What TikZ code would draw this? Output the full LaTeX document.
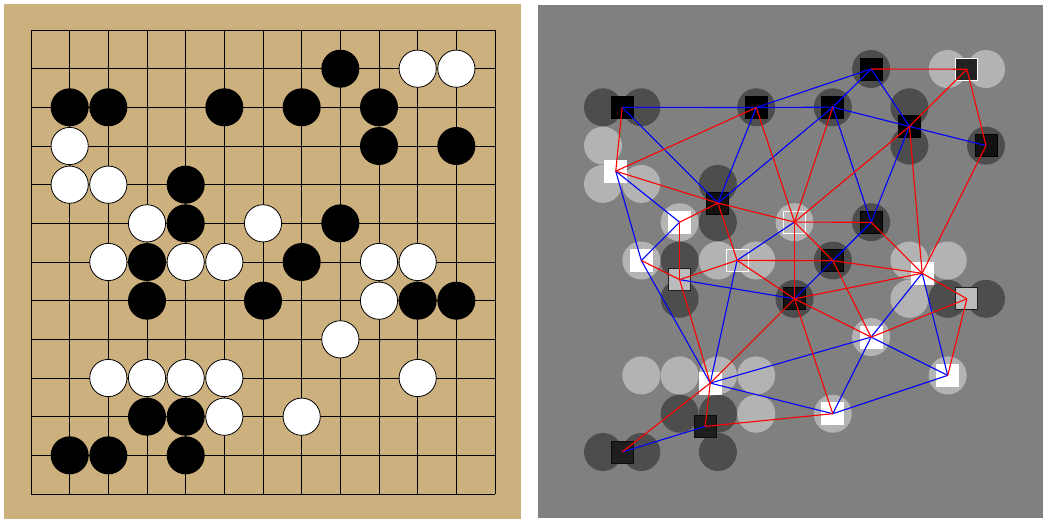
\documentclass[tikz,border=0pt]{standalone}
\definecolor{board}{RGB}{204,176,126}
\definecolor{panel}{RGB}{128,128,128}
\definecolor{dstone}{RGB}{77,77,77}
\definecolor{lstone}{RGB}{179,179,179}
\definecolor{k0}{RGB}{0,0,0}
\definecolor{k1}{RGB}{17,17,17}
\definecolor{k2}{RGB}{30,30,30}
\definecolor{k2b}{RGB}{12,12,12}
\definecolor{kw}{RGB}{34,34,34}
\definecolor{gsq}{RGB}{188,188,188}
\definecolor{gsqw}{RGB}{184,184,184}
\definecolor{edgeblue}{RGB}{0,0,255}
\definecolor{edgered}{RGB}{255,0,0}
\tikzset{
  gridline/.style={black, line width=0.9pt},
  sq/.style={rectangle, minimum size=22pt, inner sep=0pt, line width=1pt},
  sqK/.style={sq, fill=k0, draw=k0},
  sqKa/.style={sq, fill=k1, draw=k0},
  sqKb/.style={sq, fill=k2, draw=k2b},
  sqKg/.style={sq, fill=gsq, draw=k2},
  sqWk/.style={sq, fill=kw, draw=white},
  sqWg/.style={sq, fill=gsqw, draw=white},
  sqW/.style={sq, fill=white, draw=white},
  be/.style={edgeblue, line width=1.1pt},
  re/.style={edgered, line width=1.1pt}
}
\begin{document}
\begin{tikzpicture}[x=1pt,y=-1pt]
\useasboundingbox (0,0) rectangle (1043,520);
\fill[white] (0,0) rectangle (1043,520);
% ---------- left: board ----------
\fill[board] (4,4) rectangle (521,519);
\begin{scope}[shift={(31,30)}, x=38.667pt, y=-38.667pt]
  \foreach \i in {0,...,12} {
    \draw[gridline] (\i,0) -- (\i,12);
    \draw[gridline] (0,\i) -- (12,\i);
  }
  \foreach \c/\r in {8/1, 1/2,2/2,5/2,7/2,9/2, 9/3,11/3, 4/4, 4/5,8/5,
                     3/6,7/6, 3/7,6/7,10/7,11/7, 3/10,4/10, 1/11,2/11,4/11}
    \fill[black] (\c,\r) circle[radius=19pt];
  \foreach \c/\r in {10/1,11/1, 1/3, 1/4,2/4, 3/5,6/5, 2/6,4/6,5/6,9/6,10/6,
                     9/7, 8/8, 2/9,3/9,4/9,5/9,10/9, 5/10,7/10}
    \filldraw[fill=white, draw=black, line width=0.8pt] (\c,\r) circle[radius=18.6pt];
\end{scope}
% ---------- right: graph ----------
\fill[panel] (538,5) rectangle (1043,518);
\begin{scope}[shift={(564.7,30.7)}, x=38.3pt, y=-38.3pt]
  \foreach \c/\r in {8/1, 1/2,2/2,5/2,7/2,9/2, 9/3,11/3, 4/4, 4/5,8/5,
                     3/6,7/6, 3/7,6/7,10/7,11/7, 3/10,4/10, 1/11,2/11,4/11}
    \fill[dstone] (\c,\r) circle[radius=19pt];
  \foreach \c/\r in {10/1,11/1, 1/3, 1/4,2/4, 3/5,6/5, 2/6,4/6,5/6,9/6,10/6,
                     9/7, 8/8, 2/9,3/9,4/9,5/9,10/9, 5/10,7/10}
    \fill[lstone] (\c,\r) circle[radius=19pt];
  % black groups
  \node[sqK]  (B1)  at (8,1) {};
  \node[sqK]  (B2)  at (1.5,2) {};
  \node[sqK]  (B3)  at (5,2.006) {};
  \node[sqK]  (B4)  at (7,1.996) {};
  \node[sqK]  (B5)  at (9,2.5) {};
  \node[sqKa] (B6)  at (11,3) {};
  \node[sqKa] (B7)  at (4,4.5) {};
  \node[sqKa] (B8)  at (8,5.004) {};
  \node[sqKg] (B9)  at (3,6.5) {};
  \node[sqKa] (B10) at (7,6.004) {};
  \node[sqKa] (B11) at (6,7) {};
  \node[sqKg] (B14) at (10.5,7) {};
  \node[sqKb] (B12) at (3.667,10.333) {};
  \node[sqKb] (B13) at (1.5,11) {};
  % white groups
  \node[sqWk] (W1)  at (10.5,1.006) {};
  \node[sqW]  (W2)  at (1.333,3.667) {};
  \node[sqW]  (W3)  at (3,5) {};
  \node[sqWg] (W4)  at (6,4.996) {};
  \node[sqW]  (W5)  at (2,6) {};
  \node[sqWg] (W6)  at (4.5,5.996) {};
  \node[sqW]  (W7)  at (9.333,6.333) {};
  \node[sqW]  (W8)  at (8,8) {};
  \node[sqW]  (W9)  at (3.8,9.2) {};
  \node[sqW]  (W10) at (10,9) {};
  \node[sqW]  (W11) at (7,10) {};
  % same-colour edges
  \foreach \a/\b in {B2/B3, B3/B4, B2/B7, B3/B7, B3/B1, B4/B7, B1/B4, B1/B5,
                     B4/B5, B5/B6, B4/B8, B5/B8, B8/B10, B10/B11, B9/B11, B12/B13,
                     W2/W5, W2/W3, W3/W5, W5/W9, W6/W4, W6/W9, W7/W8, W7/W10,
                     W8/W9, W8/W10, W8/W11, W11/W9, W11/W10}
    \draw[be] (\a.center) -- (\b.center);
  % different-colour edges
  \foreach \a/\b in {B2/W2, W2/B3, W2/B7, B7/W4, B7/W3, B7/W6, B3/W4, B4/W4,
                     B5/W4, B8/W4, W4/B10, W4/B11, B1/W1, W1/B5, W1/B6, B5/W7,
                     B6/W7, B8/W7, B10/W7, B11/W7, B14/W7, B10/W8, B11/W8, B14/W8,
                     B14/W10, B11/W11, B12/W11, W5/B9, W3/B9, B9/W6, W6/B10,
                     W6/B11, B9/W9, B11/W9, W9/B13, W9/B12}
    \draw[re] (\a.center) -- (\b.center);
\end{scope}
\end{tikzpicture}
\end{document}
